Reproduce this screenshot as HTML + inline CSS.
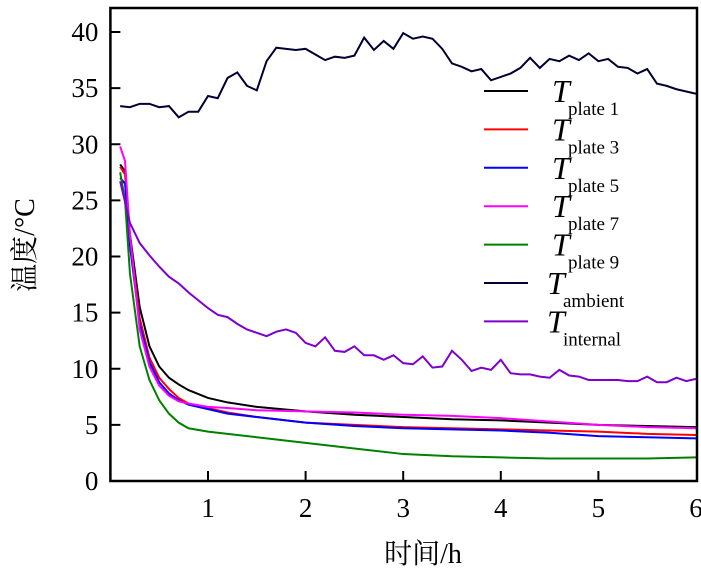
<!DOCTYPE html>
<html><head><meta charset="utf-8"><style>
body{margin:0;background:#fff;}
svg{display:block;font-family:"Liberation Serif","Noto Serif CJK SC",serif;}
</style></head><body>
<svg id="c" width="701" height="576"></svg>
<script>
const tA=[];for(let i=1;i<=60;i++)tA.push(i/10);
const ambient=[33.4,33.3,33.6,33.6,33.3,33.4,32.4,32.9,32.9,34.3,34.1,35.9,36.4,35.2,34.8,37.4,38.6,38.5,38.4,38.5,38.0,37.5,37.8,37.7,37.9,39.5,38.4,39.2,38.5,39.9,39.4,39.6,39.4,38.5,37.2,36.9,36.5,36.7,35.7,36.0,36.3,36.8,37.7,36.8,37.6,37.4,37.9,37.5,38.1,37.4,37.6,36.9,36.8,36.3,36.7,35.4,35.2,34.9,34.7,34.5];
const internal=[26.7,23,21.2,20.1,19.1,18.2,17.6,16.8,16.1,15.4,14.8,14.6,14.0,13.5,13.2,12.9,13.3,13.5,13.2,12.3,12.0,12.8,11.6,11.5,12.0,11.2,11.2,10.8,11.2,10.5,10.4,11.1,10.1,10.2,11.6,10.8,9.8,10.1,9.9,10.8,9.6,9.5,9.5,9.3,9.2,9.9,9.4,9.3,9.0,9.0,9.0,9.0,8.9,8.9,9.3,8.8,8.8,9.2,8.9,9.1];
const tP=[0.1,0.15,0.2,0.3,0.4,0.5,0.6,0.7,0.8,1.0,1.2,1.5,2,2.5,3,3.5,4,4.5,5,5.5,6];
const plate1=[28.2,27.6,22,15.5,12,10.2,9.2,8.6,8.1,7.4,7.0,6.6,6.2,5.9,5.7,5.5,5.4,5.2,5.0,4.9,4.8];
const plate3=[28,27.3,21.5,14.5,11,9.2,8.2,7.4,6.9,6.5,6.1,5.7,5.2,5.0,4.8,4.7,4.6,4.5,4.4,4.2,4.1];
const plate5=[27,26.5,21,14,10.6,8.8,7.8,7.2,6.8,6.4,6.0,5.7,5.2,4.9,4.7,4.6,4.5,4.3,4.0,3.9,3.8];
const plate7=[29.8,28.5,22,13.5,10.2,8.5,7.6,7.1,6.9,6.6,6.5,6.3,6.2,6.1,5.9,5.8,5.6,5.3,5.0,4.8,4.7];
const plate9=[27.5,25,18.5,12,9,7.2,6.0,5.2,4.7,4.4,4.2,3.9,3.4,2.9,2.4,2.2,2.1,2.0,2.0,2.0,2.1];
const xTicks=[1,2,3,4,5,6];
const yTicks=[0,5,10,15,20,25,30,35,40];
const L=110.4,R=697,T=8,B=481;
const xs=v=>L+v*97.6, ys=v=>B-v*11.225;
const svg=document.getElementById('c');const NS='http://www.w3.org/2000/svg';
function mk(tag,attrs,parent){const e=document.createElementNS(NS,tag);for(const k in attrs)e.setAttribute(k,attrs[k]);(parent||svg).appendChild(e);return e;}
const series=[
 {n:'plate 1',t:tP,v:plate1,c:'#000000',id:'plate-1'},
 {n:'plate 3',t:tP,v:plate3,c:'#ff0000',id:'plate-3'},
 {n:'plate 5',t:tP,v:plate5,c:'#0000ff',id:'plate-5'},
 {n:'plate 7',t:tP,v:plate7,c:'#ff00ff',id:'plate-7'},
 {n:'plate 9',t:tP,v:plate9,c:'#008000',id:'plate-9'},
 {n:'ambient',t:tA,v:ambient,c:'#000033',id:'ambient'},
 {n:'internal',t:tA,v:internal,c:'#7f00cc',id:'internal'}];
const clip=mk('clipPath',{id:'cp'});mk('rect',{x:L,y:T,width:R-L,height:B-T},clip);
series.forEach(s=>{
 const p=mk('polyline',{points:s.t.map((t,i)=>xs(t)+','+ys(s.v[i])).join(' '),fill:'none',stroke:s.c,'stroke-width':2,'clip-path':'url(#cp)'});
 
 
});
const fr=mk('rect',{x:L,y:T,width:R-L,height:B-T,fill:'none',stroke:'#000','stroke-width':2.5});


xTicks.forEach(v=>{
 const x=xs(v);
 if(v<6){const tk=mk('line',{x1:x,x2:x,y1:B,y2:B-10,stroke:'#000','stroke-width':2});
 
 }
 const tx=mk('text',{x:x,y:B+36,'font-size':27,'text-anchor':'middle'});tx.textContent=v;
 
 
});
yTicks.forEach(v=>{
 const y=ys(v);
 if(v>0){const tk=mk('line',{x1:L,x2:L+10,y1:y,y2:y,stroke:'#000','stroke-width':2});
 
 }
 const tx=mk('text',{x:L-12,y:y+9,'font-size':27,'text-anchor':'end'});tx.textContent=v;
 
 
});
const xl=mk('text',{x:423,y:563,'font-size':28,'text-anchor':'middle'});xl.textContent='时间/h';


const yl=mk('text',{x:0,y:0,'font-size':28,'text-anchor':'middle',transform:'translate(34,245) rotate(-90)'});yl.textContent='温度/°C';


const lg=mk('g',{});


series.forEach((s,i)=>{
 const y=91+i*38.4;
 const g=mk('g',{},lg);
 
 
 mk('line',{x1:484,x2:528,y1:y,y2:y,stroke:s.c,'stroke-width':2},g);
 const off=(s.id==='ambient'||s.id==='internal')?-5:0;
 const t=mk('text',{x:552+off,y:y+11,'font-size':32,'font-style':'italic'},g);t.textContent='T';
 const sb=mk('text',{x:568+off,y:y+24,'font-size':19},g);sb.textContent=s.n;
});
</script>
</body></html>
